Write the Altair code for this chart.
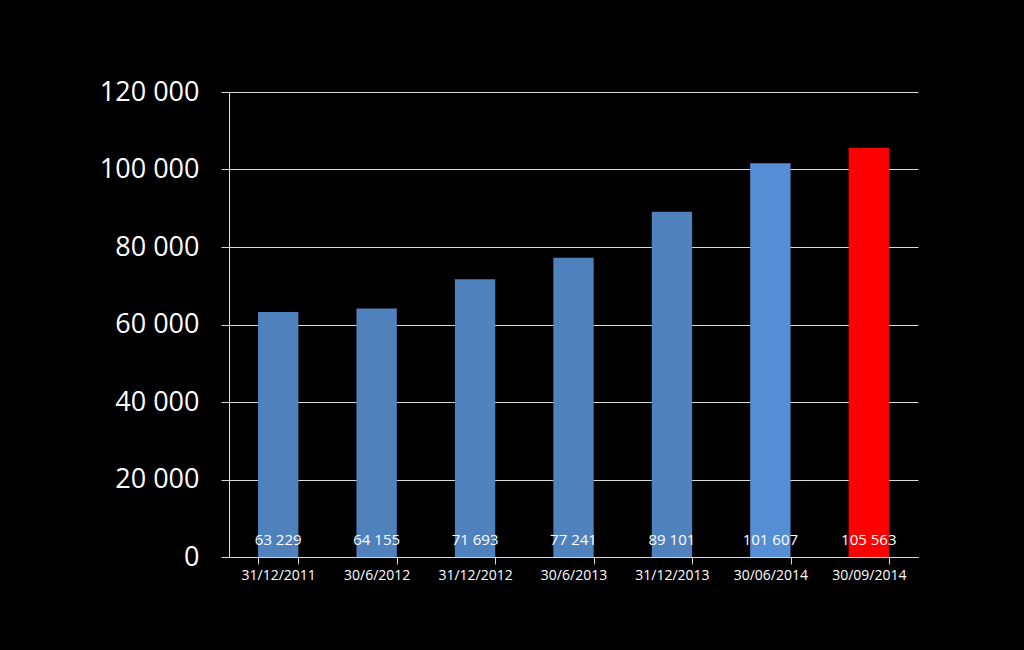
import altair as alt
import pandas as pd

dates = ["31/12/2011", "30/6/2012", "31/12/2012", "30/6/2013", "31/12/2013", "30/06/2014", "30/09/2014"]
values = [63229, 64155, 71693, 77241, 89101, 101607, 105563]
colors = ["#4F81BD", "#4F81BD", "#4F81BD", "#4F81BD", "#4F81BD", "#558ED5", "#FF0000"]
labels = ["63 229", "64 155", "71 693", "77 241", "89 101", "101 607", "105 563"]

df = pd.DataFrame({"date": dates, "value": values, "color": colors, "label": labels})

FONT = "Open Sans"
LINE = "#D9D9D9"

x = alt.X("date:N", sort=dates, title=None,
          scale=alt.Scale(paddingInner=0.59, paddingOuter=0.295),
          axis=alt.Axis(labelAngle=0, labelColor="white", labelFont=FONT, labelFontSize=14,
                        tickBand="extent", tickColor=LINE, tickSize=7, domainColor=LINE,
                        labelPadding=4, grid=False))

bars = alt.Chart(df).mark_bar().encode(
    x=x,
    y=alt.Y("value:Q", title=None,
            scale=alt.Scale(domain=[0, 120000]),
            axis=alt.Axis(values=[0, 20000, 40000, 60000, 80000, 100000, 120000],
                          labelExpr="replace(datum.label, ',', ' ')",
                          labelColor="white", labelFont=FONT, labelFontSize=27,
                          tickColor=LINE, tickSize=8, domainColor=LINE,
                          gridColor=LINE, gridWidth=1, labelPadding=22)),
    color=alt.Color("color:N", scale=None),
)

text = alt.Chart(df).mark_text(color="white", font=FONT, fontSize=15, baseline="middle").encode(
    x=alt.X("date:N", sort=dates),
    y=alt.datum(4500),
    text="label:N",
)

chart = (bars + text).properties(
    width=689, height=465,
    autosize=alt.AutoSizeParams(type="none"),
    padding={"left": 229, "top": 92, "right": 106, "bottom": 93},
    background="black",
).configure_view(stroke=None)

chart.save("out.html", embed_options={"renderer": "svg", "actions": False})
